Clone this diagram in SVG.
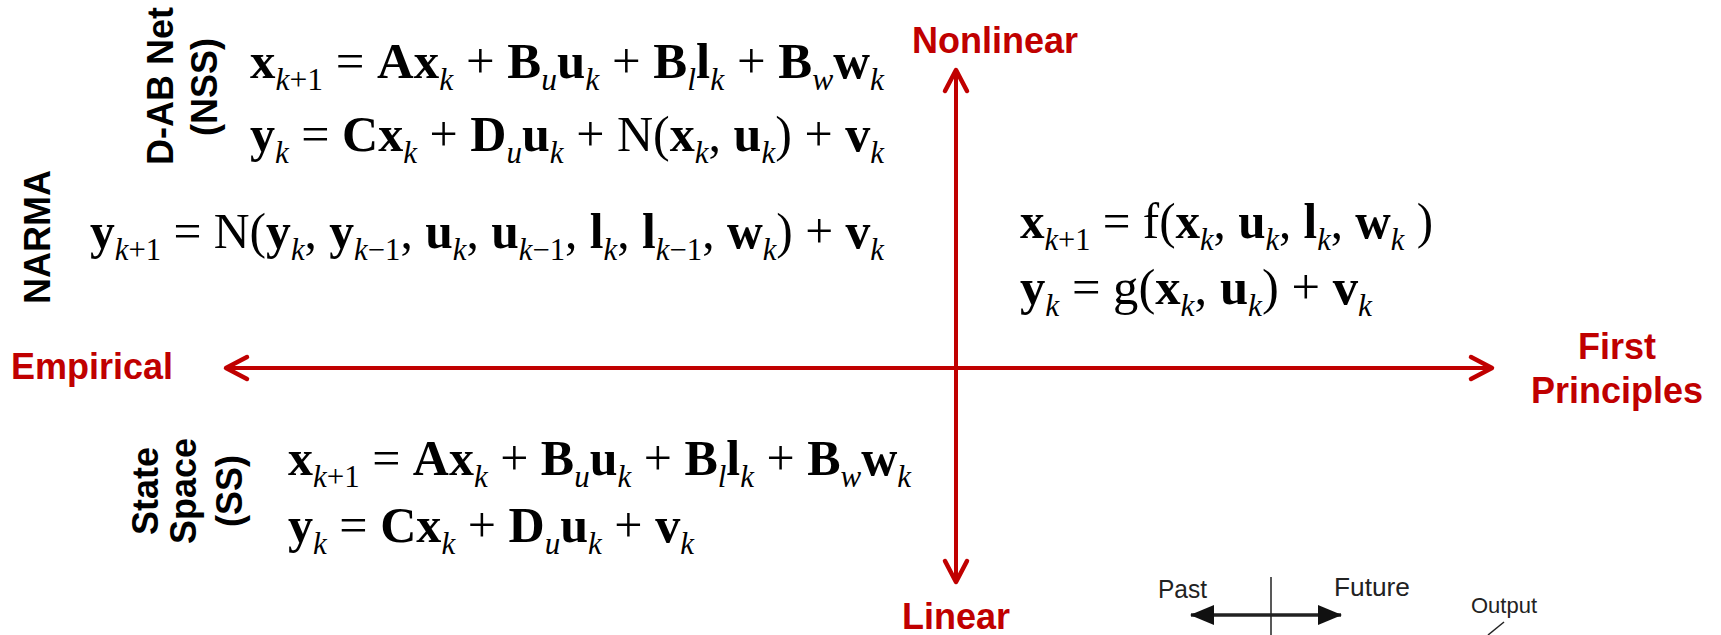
<svg xmlns="http://www.w3.org/2000/svg" width="1721" height="635" viewBox="0 0 1721 635">
<style>
.eq{font-family:"Liberation Serif","Times New Roman",serif;font-size:50px;fill:#000}
.b{font-weight:bold}
.s{font-style:italic;font-size:31px}
.sr{font-size:31px}
.lab{font-family:"Liberation Sans",Arial,sans-serif;font-weight:bold;font-size:36px;fill:#000}
.ax{font-family:"Liberation Sans",Arial,sans-serif;font-weight:bold;font-size:36px;fill:#C00000}
.ins{font-family:"Liberation Sans",Arial,sans-serif;fill:#222}
.axis{stroke:#C00000;stroke-width:4;fill:none}
</style>
<defs>
<marker id="chev" viewBox="0 0 26 26" refX="23" refY="13" markerWidth="26" markerHeight="26" markerUnits="userSpaceOnUse" orient="auto-start-reverse" overflow="visible">
<path d="M2,2 L23,13 L2,24" fill="none" stroke="#C00000" stroke-width="4.5" stroke-linecap="round" stroke-linejoin="round"/>
</marker>
<marker id="tri" viewBox="0 0 24 20" refX="23" refY="10" markerWidth="24" markerHeight="20" markerUnits="userSpaceOnUse" orient="auto-start-reverse">
<path d="M0,0 L24,10 L0,20 Z" fill="#111"/>
</marker>
</defs>

<g id="connectors">
<line class="axis" x1="956" y1="582" x2="956" y2="70" marker-end="url(#chev)" marker-start="url(#chev)"/>
<line class="axis" x1="226" y1="368" x2="1492" y2="368" marker-end="url(#chev)" marker-start="url(#chev)"/>
<line x1="1191" y1="615" x2="1341" y2="615" stroke="#222" stroke-width="3.5" marker-start="url(#tri)" marker-end="url(#tri)"/>
<line x1="1271" y1="577" x2="1271" y2="635" stroke="#222" stroke-width="1.5"/>
<line x1="1504" y1="622" x2="1488" y2="635" stroke="#222" stroke-width="1.5"/>
</g>

<g id="axis-labels">
<text class="ax" x="912" y="53">Nonlinear</text>
<text class="ax" x="956" y="629" text-anchor="middle">Linear</text>
<text class="ax" x="11" y="379">Empirical</text>
<text class="ax" x="1617" y="359" text-anchor="middle" font-size="37">First</text>
<text class="ax" x="1617" y="403" text-anchor="middle" font-size="37">Principles</text>
</g>

<g id="nss">
<text class="lab" transform="translate(173,86) rotate(-90)" text-anchor="middle">D-AB Net</text>
<text class="lab" transform="translate(217,87) rotate(-90)" text-anchor="middle">(NSS)</text>
<text class="eq" x="250" y="78" textLength="634" lengthAdjust="spacingAndGlyphs"><tspan class="b">x</tspan><tspan class="s" dy="12">k</tspan><tspan class="sr">+1</tspan><tspan dy="-12"> = </tspan><tspan class="b">Ax</tspan><tspan class="s" dy="12">k</tspan><tspan dy="-12"> + </tspan><tspan class="b">B</tspan><tspan class="s" dy="12">u</tspan><tspan class="b" dy="-12">u</tspan><tspan class="s" dy="12">k</tspan><tspan dy="-12"> + </tspan><tspan class="b">B</tspan><tspan class="s" dy="12">l</tspan><tspan class="b" dy="-12">l</tspan><tspan class="s" dy="12">k</tspan><tspan dy="-12"> + </tspan><tspan class="b">B</tspan><tspan class="s" dy="12">w</tspan><tspan class="b" dy="-12">w</tspan><tspan class="s" dy="12">k</tspan></text>
<text class="eq" x="250" y="151" textLength="634" lengthAdjust="spacingAndGlyphs"><tspan class="b">y</tspan><tspan class="s" dy="12">k</tspan><tspan dy="-12"> = </tspan><tspan class="b">Cx</tspan><tspan class="s" dy="12">k</tspan><tspan dy="-12"> + </tspan><tspan class="b">D</tspan><tspan class="s" dy="12">u</tspan><tspan class="b" dy="-12">u</tspan><tspan class="s" dy="12">k</tspan><tspan dy="-12"> + N(</tspan><tspan class="b">x</tspan><tspan class="s" dy="12">k</tspan><tspan dy="-12">, </tspan><tspan class="b">u</tspan><tspan class="s" dy="12">k</tspan><tspan dy="-12">) + </tspan><tspan class="b">v</tspan><tspan class="s" dy="12">k</tspan></text>
</g>

<g id="narma">
<text class="lab" transform="translate(50,237) rotate(-90)" text-anchor="middle">NARMA</text>
<text class="eq" x="90" y="248" textLength="794" lengthAdjust="spacingAndGlyphs"><tspan class="b">y</tspan><tspan class="s" dy="12">k</tspan><tspan class="sr">+1</tspan><tspan dy="-12"> = N(</tspan><tspan class="b">y</tspan><tspan class="s" dy="12">k</tspan><tspan dy="-12">, </tspan><tspan class="b">y</tspan><tspan class="s" dy="12">k</tspan><tspan class="sr">−1</tspan><tspan dy="-12">, </tspan><tspan class="b">u</tspan><tspan class="s" dy="12">k</tspan><tspan dy="-12">, </tspan><tspan class="b">u</tspan><tspan class="s" dy="12">k</tspan><tspan class="sr">−1</tspan><tspan dy="-12">, </tspan><tspan class="b">l</tspan><tspan class="s" dy="12">k</tspan><tspan dy="-12">, </tspan><tspan class="b">l</tspan><tspan class="s" dy="12">k</tspan><tspan class="sr">−1</tspan><tspan dy="-12">, </tspan><tspan class="b">w</tspan><tspan class="s" dy="12">k</tspan><tspan dy="-12">) + </tspan><tspan class="b">v</tspan><tspan class="s" dy="12">k</tspan></text>
</g>

<g id="first-principles">
<text class="eq" x="1020" y="238" textLength="413" lengthAdjust="spacingAndGlyphs"><tspan class="b">x</tspan><tspan class="s" dy="12">k</tspan><tspan class="sr">+1</tspan><tspan dy="-12"> = f(</tspan><tspan class="b">x</tspan><tspan class="s" dy="12">k</tspan><tspan dy="-12">, </tspan><tspan class="b">u</tspan><tspan class="s" dy="12">k</tspan><tspan dy="-12">, </tspan><tspan class="b">l</tspan><tspan class="s" dy="12">k</tspan><tspan dy="-12">, </tspan><tspan class="b">w</tspan><tspan class="s" dy="12">k</tspan><tspan dy="-12"> )</tspan></text>
<text class="eq" x="1020" y="304" textLength="352" lengthAdjust="spacingAndGlyphs"><tspan class="b">y</tspan><tspan class="s" dy="12">k</tspan><tspan dy="-12"> = g(</tspan><tspan class="b">x</tspan><tspan class="s" dy="12">k</tspan><tspan dy="-12">, </tspan><tspan class="b">u</tspan><tspan class="s" dy="12">k</tspan><tspan dy="-12">) + </tspan><tspan class="b">v</tspan><tspan class="s" dy="12">k</tspan></text>
</g>

<g id="state-space">
<text class="lab" transform="translate(158,491) rotate(-90)" text-anchor="middle">State</text>
<text class="lab" transform="translate(196,491) rotate(-90)" text-anchor="middle">Space</text>
<text class="lab" transform="translate(242,491) rotate(-90)" text-anchor="middle">(SS)</text>
<text class="eq" x="288" y="475" textLength="623" lengthAdjust="spacingAndGlyphs"><tspan class="b">x</tspan><tspan class="s" dy="12">k</tspan><tspan class="sr">+1</tspan><tspan dy="-12"> = </tspan><tspan class="b">Ax</tspan><tspan class="s" dy="12">k</tspan><tspan dy="-12"> + </tspan><tspan class="b">B</tspan><tspan class="s" dy="12">u</tspan><tspan class="b" dy="-12">u</tspan><tspan class="s" dy="12">k</tspan><tspan dy="-12"> + </tspan><tspan class="b">B</tspan><tspan class="s" dy="12">l</tspan><tspan class="b" dy="-12">l</tspan><tspan class="s" dy="12">k</tspan><tspan dy="-12"> + </tspan><tspan class="b">B</tspan><tspan class="s" dy="12">w</tspan><tspan class="b" dy="-12">w</tspan><tspan class="s" dy="12">k</tspan></text>
<text class="eq" x="288" y="542" textLength="406" lengthAdjust="spacingAndGlyphs"><tspan class="b">y</tspan><tspan class="s" dy="12">k</tspan><tspan dy="-12"> = </tspan><tspan class="b">Cx</tspan><tspan class="s" dy="12">k</tspan><tspan dy="-12"> + </tspan><tspan class="b">D</tspan><tspan class="s" dy="12">u</tspan><tspan class="b" dy="-12">u</tspan><tspan class="s" dy="12">k</tspan><tspan dy="-12"> + </tspan><tspan class="b">v</tspan><tspan class="s" dy="12">k</tspan></text>
</g>

<g id="time-inset">
<text class="ins" x="1158" y="598" font-size="26" textLength="49" lengthAdjust="spacingAndGlyphs">Past</text>
<text class="ins" x="1334" y="596" font-size="26" textLength="76" lengthAdjust="spacingAndGlyphs">Future</text>
<text class="ins" x="1471" y="613" font-size="22" textLength="66" lengthAdjust="spacingAndGlyphs">Output</text>
</g>
</svg>
